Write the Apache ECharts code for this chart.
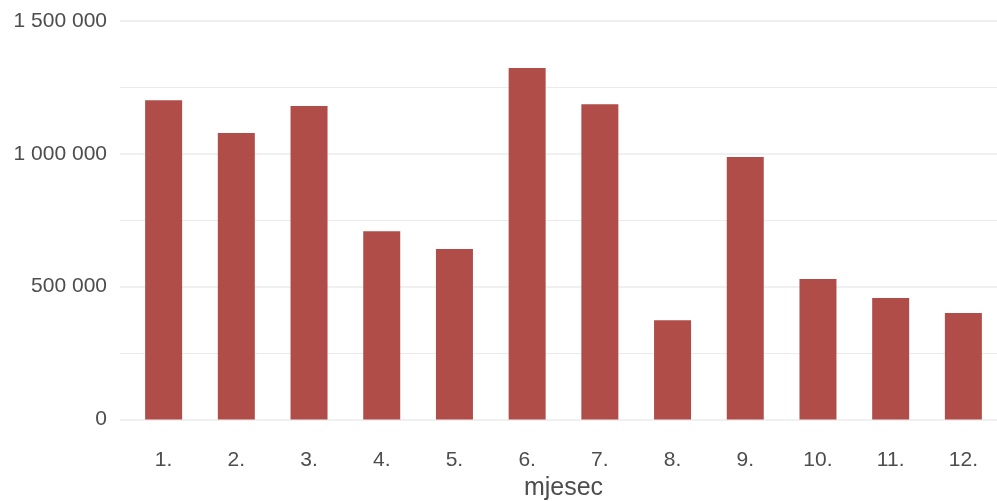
<!DOCTYPE html>
<html>
<head>
<meta charset="utf-8">
<script src="https://cdn.jsdelivr.net/npm/echarts@6/dist/echarts.min.js"></script>
<style>html,body{margin:0;padding:0;background:#fff;}#c{width:997px;height:501px;}</style>
</head>
<body>
<div id="c"></div>
<script>
var months = ['1.', '2.', '3.', '4.', '5.', '6.', '7.', '8.', '9.', '10.', '11.', '12.'];
var monthPos = [1, 2, 3, 4, 5, 6, 7, 8, 9, 10, 11, 12];
var values = [1202000, 1078000, 1180000, 709000, 642000, 1323000, 1187000, 374000, 988000, 529000, 457000, 401000];
var yTicks = [0, 500000, 1000000, 1500000];

var chart = echarts.init(document.getElementById('c'), null, {renderer: 'canvas'});
var font = 'Liberation Sans, Arial, sans-serif';
chart.setOption({
  animation: false,
  backgroundColor: '#ffffff',
  grid: {left: 120, right: -10, top: 21, bottom: 81.5, containLabel: false, outerBoundsMode: 'none'},
  xAxis: {
    type: 'value',
    min: 0.4,
    max: 12.6,
    name: 'mjesec',
    nameLocation: 'middle',
    nameGap: 52,
    nameTextStyle: {fontFamily: font, fontSize: 25, color: '#4d4d4d'},
    axisLine: {show: false},
    axisTick: {show: false},
    splitLine: {show: false},
    axisLabel: {
      customValues: monthPos,
      margin: 30,
      fontFamily: font,
      fontSize: 21,
      color: '#4d4d4d',
      formatter: function (v) { return months[Math.round(v) - 1]; }
    }
  },
  yAxis: {
    type: 'value',
    min: 0,
    max: 1500000,
    interval: 500000,
    axisLine: {show: false},
    axisTick: {show: false},
    axisLabel: {
      margin: 13,
      fontFamily: font,
      fontSize: 21,
      color: '#4d4d4d',
      formatter: function (v) { return String(v).replace(/\B(?=(\d{3})+(?!\d))/g, ' '); }
    },
    splitLine: {show: true, lineStyle: {color: '#ebebeb', width: 1.6}},
    minorTick: {show: false, splitNumber: 2},
    minorSplitLine: {show: true, lineStyle: {color: '#ebebeb', width: 1}}
  },
  series: [{
    type: 'bar',
    barWidth: 37,
    itemStyle: {color: '#b04d48'},
    data: monthPos.map(function (p, i) { return [p, values[i]]; })
  }]
});
</script>
</body>
</html>
